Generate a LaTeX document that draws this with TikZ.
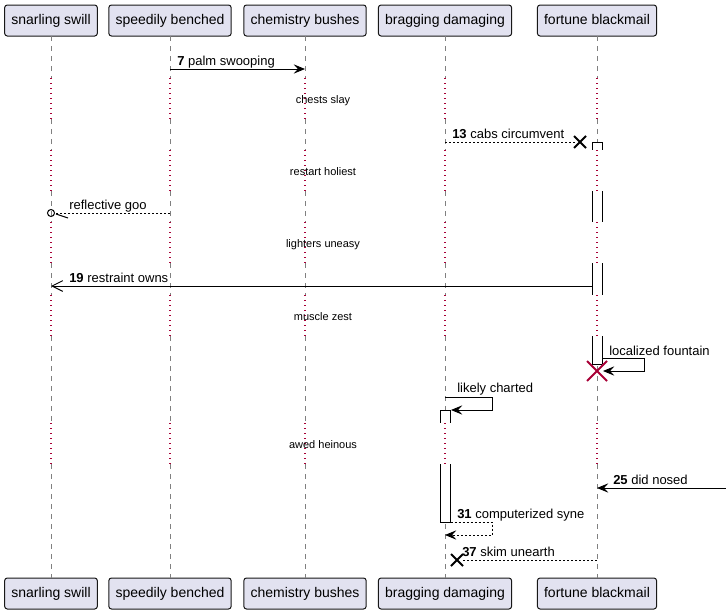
\documentclass[tikz,border=0pt]{standalone}
\usepackage{fontspec}
\setmainfont{Liberation Sans}
\usetikzlibrary{arrows.meta,calc}

\definecolor{partfill}{RGB}{226,226,240}
\definecolor{partline}{RGB}{24,24,24}
\definecolor{delayred}{RGB}{168,0,54}

\tikzset{
  part/.style={draw=partline, fill=partfill, rounded corners=2pt, line width=0.75pt,
    minimum height=23.25pt, inner xsep=5pt, text height=7.6pt, text depth=2.2pt,
    font=\fontsize{10.5}{12}\selectfont},
  msg/.style={font=\fontsize{9.75}{11}\selectfont, inner sep=0pt, anchor=base west},
  delaytext/.style={font=\fontsize{8.25}{10}\selectfont, inner sep=0pt, anchor=base},
  lifeline/.style={draw=gray, line width=0.75pt, dash pattern=on 3.75pt off 3.75pt},
  delayline/.style={draw=delayred, line width=0.9pt, dash pattern=on 0.9pt off 2.85pt},
  actline/.style={draw=black, line width=0.75pt},
  call/.style={line width=0.75pt, -{Stealth[length=8.5pt,width=7pt,inset=3.2pt]}},
  reply/.style={line width=0.75pt, dash pattern=on 1.5pt off 1.5pt},
  openhead/.style={line width=0.75pt, -{Straight Barb[length=8pt,width=8pt]}},
  lostx/.style={line width=1.5pt, draw=black},
}

\begin{document}
\begin{tikzpicture}[x=0.75pt,y=0.75pt,yscale=-1,xscale=1]
\useasboundingbox (0,0) rectangle (726,614);

% Participants (top)
\node[part] (top-snarl) at (51,20.5) {snarling swill};
\node[part] (top-speedy) at (170,20.5) {speedily benched};
\node[part] (top-chem) at (305,20.5) {chemistry bushes};
\node[part] (top-brag) at (445,20.5) {bragging damaging};
\node[part] (top-fortune) at (597,20.5) {fortune blackmail};
% Participants (bottom)
\node[part] (bot-snarl) at (51,593.5) {snarling swill};
\node[part] (bot-speedy) at (170,593.5) {speedily benched};
\node[part] (bot-chem) at (305,593.5) {chemistry bushes};
\node[part] (bot-brag) at (445,593.5) {bragging damaging};
\node[part] (bot-fortune) at (597,593.5) {fortune blackmail};

% Lifelines
\foreach \nm in {snarl,speedy,chem,brag,fortune}{
  \foreach \ya/\yb in {36/78,119/150,191/222,263/295,336/423,464/578}
    \draw[lifeline] (top-\nm.south |- 0,\ya) -- (top-\nm.south |- 0,\yb);
  \foreach \ya/\yb in {78/119,150/191,222/263,295/336,423/464}
    \draw[delayline] (top-\nm.south |- 0,\ya) -- (top-\nm.south |- 0,\yb);
}

% Activation: fortune blackmail
\foreach \ya/\yb in {142/150,191/222,263/295,336/364}{
  \fill[white] (592,\ya) rectangle (602,\yb);
  \draw[actline] (592,\ya) -- (592,\yb) (602,\ya) -- (602,\yb);
}
\draw[actline] (592,142) -- (602,142);
\draw[actline] (592,364) -- (602,364);
% Activation: bragging damaging
\foreach \ya/\yb in {410/423,464/522}{
  \fill[white] (440,\ya) rectangle (450.5,\yb);
  \draw[actline] (440,\ya) -- (440,\yb) (450.5,\ya) -- (450.5,\yb);
}
\draw[actline] (440,410) -- (450.5,410);
\draw[actline] (440,522) -- (450.5,522);

% Delays
\node[delaytext] (d1) at (323,103) {chests slay};
\node[delaytext] (d2) at (323,175) {restart holiest};
\node[delaytext] (d3) at (323,247) {lighters uneasy};
\node[delaytext] (d4) at (323,320) {muscle zest};
\node[delaytext] (d5) at (323,448) {awed heinous};

% Message 7
\coordinate (m7a) at (top-speedy.south |- 0,69);
\coordinate (m7b) at (top-chem.south |- 0,69);
\draw[call] (m7a) -- (m7b);
\node[msg] (l7) at (177,65.5) {\textbf{7} palm swooping};

% Message 13 (lost)
\coordinate (m13a) at (top-brag.south |- 0,142);
\coordinate (m13b) at (575,142);
\draw[reply] (m13a) -- (m13b);
\draw[lostx] (574,136) -- (586,148) (574,148) -- (586,136);
\node[msg] (l13) at (452,138.5) {\textbf{13} cabs circumvent};

% reflective goo
\coordinate (mra) at (top-speedy.south |- 0,213);
\coordinate (mrb) at (top-snarl.south |- 0,213);
\draw[reply] (mra) -- ($(mrb)+(4,0)$);
\draw[line width=0.75pt] (mrb) circle[radius=3.5];
\draw[line width=0.75pt] ($(mrb)+(5,1)$) -- ($(mrb)+(17,5)$);
\node[msg] (lr) at (69,209.5) {reflective goo};

% Message 19
\coordinate (m19a) at (592,286);
\coordinate (m19b) at (top-snarl.south |- 0,286);
\draw[openhead] (m19a) -- (m19b);
\node[msg] (l19) at (69,282.5) {\textbf{19} restraint owns};

% localized fountain (self)
\coordinate (mla) at (602,358);
\coordinate (mlb) at (603,371);
\draw[call] (mla) -- (644,358) -- (644,371) -- (mlb);
\node[msg] (ll) at (609,355) {localized fountain};
\draw[line width=1.5pt, draw=delayred] (587,361) -- (607,381) (587,381) -- (607,361);

% likely charted (self)
\coordinate (mka) at (top-brag.south |- 0,397);
\coordinate (mkb) at (451,410);
\draw[call] (mka) -- (492,397) -- (492,410) -- (mkb);
\node[msg] (lk) at (457,392.5) {likely charted};

% Message 25 (found)
\coordinate (m25a) at (726,488);
\coordinate (m25b) at (top-fortune.south |- 0,488);
\draw[call] (m25a) -- (m25b);
\node[msg] (l25) at (613,484) {\textbf{25} did nosed};

% Message 31 (self return)
\coordinate (m31a) at (450.5,522);
\coordinate (m31b) at (top-brag.south |- 0,535);
\draw[reply,-{Stealth[length=8.5pt,width=7pt,inset=3.2pt]}] (m31a) -- (492,522) -- (492,535) -- (m31b);
\node[msg] (l31) at (457,518) {\textbf{31} computerized syne};

% Message 37 (lost)
\coordinate (m37a) at (top-fortune.south |- 0,560);
\coordinate (m37b) at (462,560);
\draw[reply] (m37a) -- (m37b);
\draw[lostx] (451,554) -- (463,566) (451,566) -- (463,554);
\node[msg] (l37) at (462,556) {\textbf{37} skim unearth};
\end{tikzpicture}
\end{document}
